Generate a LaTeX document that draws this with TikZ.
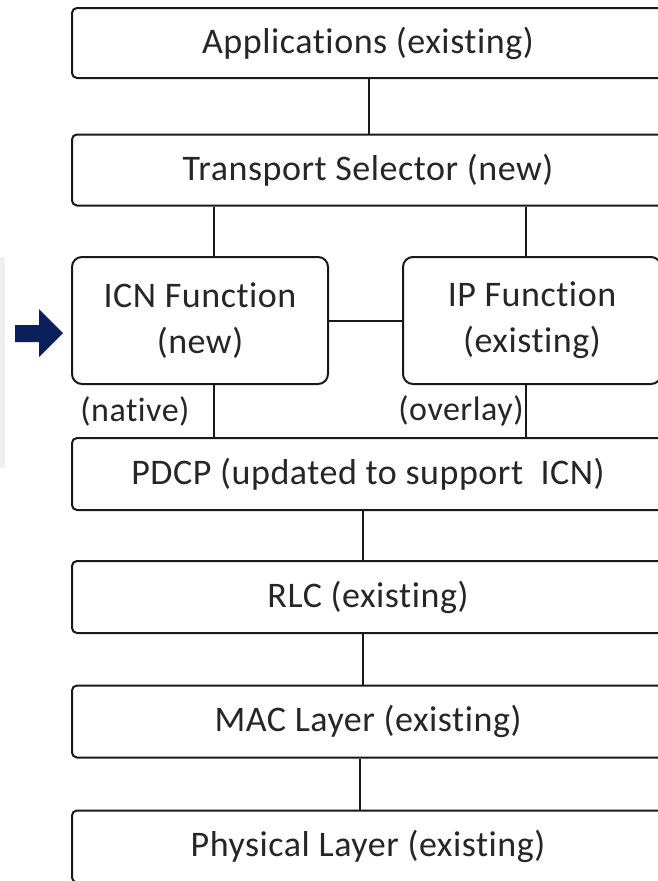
\documentclass[tikz,border=0pt]{standalone}
\usepackage{fontspec}
\setmainfont{Carlito}[LetterSpace=1.5, Ligatures={NoCommon}]
\begin{document}
\begin{tikzpicture}[x=1pt,y=-1pt,
  layer/.style={draw=black!90, line width=2pt, rounded corners=5pt, fill=white,
    inner sep=0pt, text=black!85, font=\fontsize{36}{43}\selectfont},
  func/.style={layer, rounded corners=10pt, align=center, font=\fontsize{36}{46}\selectfont},
  link/.style={draw=black!90, line width=2pt},
  tag/.style={inner sep=0pt, text=black!85, font=\fontsize{34}{40}\selectfont}]
\useasboundingbox (0,0) rectangle (658,881);
\clip (0,0) rectangle (658,881);
\fill[white] (0,0) rectangle (658,881);
% faint side panel
\fill[black!6] (0,257) rectangle (5,468);

% protocol layers
\node[layer, minimum width=592pt, minimum height=70pt] (app)  at (368,43)    {Applications (existing)};
\node[layer, minimum width=592pt, minimum height=71pt] (ts)   at (368,170)   {Transport Selector (new)};
\node[func,  minimum width=256pt, minimum height=127pt] (icn) at (200,320.5) {ICN Function\\(new)};
\node[func,  minimum width=258pt, minimum height=127pt] (ip)  at (532,320.5) {IP Function\\(existing)};
\node[layer, minimum width=592pt, minimum height=72pt] (pdcp) at (368,474)   {PDCP (updated to support\ \ ICN)};
\node[layer, minimum width=592pt, minimum height=72pt] (rlc)  at (368,597)   {RLC (existing)};
\node[layer, minimum width=592pt, minimum height=72pt] (mac)  at (368,721.5) {MAC Layer (existing)};
\node[layer, minimum width=592pt, minimum height=72pt] (phy)  at (368,846.5) {Physical Layer (existing)};

% path labels
\node[tag] (native)  at (135,411) {(native)};
\node[tag] (overlay) at (461,411) {(overlay)};

% connections between layers
\draw[link] ([xshift=1pt]app.south) -- ([xshift=1pt]app.south |- ts.north);
\draw[link] ([xshift=14pt]icn.north) -- ([xshift=14pt]icn.north |- ts.south);
\draw[link] ([xshift=-6pt]ip.north) -- ([xshift=-6pt]ip.north |- ts.south);
\draw[link] (icn.east) -- (ip.west);
\draw[link] ([xshift=14pt]icn.south) -- ([xshift=14pt]icn.south |- pdcp.north);
\draw[link] ([xshift=-6pt]ip.south) -- ([xshift=-6pt]ip.south |- pdcp.north);
\draw[link] ([xshift=-5pt]pdcp.south) -- ([xshift=-5pt]pdcp.south |- rlc.north);
\draw[link] ([xshift=-5pt]rlc.south) -- ([xshift=-5pt]rlc.south |- mac.north);
\draw[link] ([xshift=-8pt]mac.south) -- ([xshift=-8pt]mac.south |- phy.north);

% pointer towards the ICN function
\fill[fill={rgb,255:red,11;green,31;blue,90}]
  (15,325) -- (39,325) -- (39,309) -- (63,333) -- (39,357) -- (39,342) -- (15,342) -- cycle;
\end{tikzpicture}
\end{document}
